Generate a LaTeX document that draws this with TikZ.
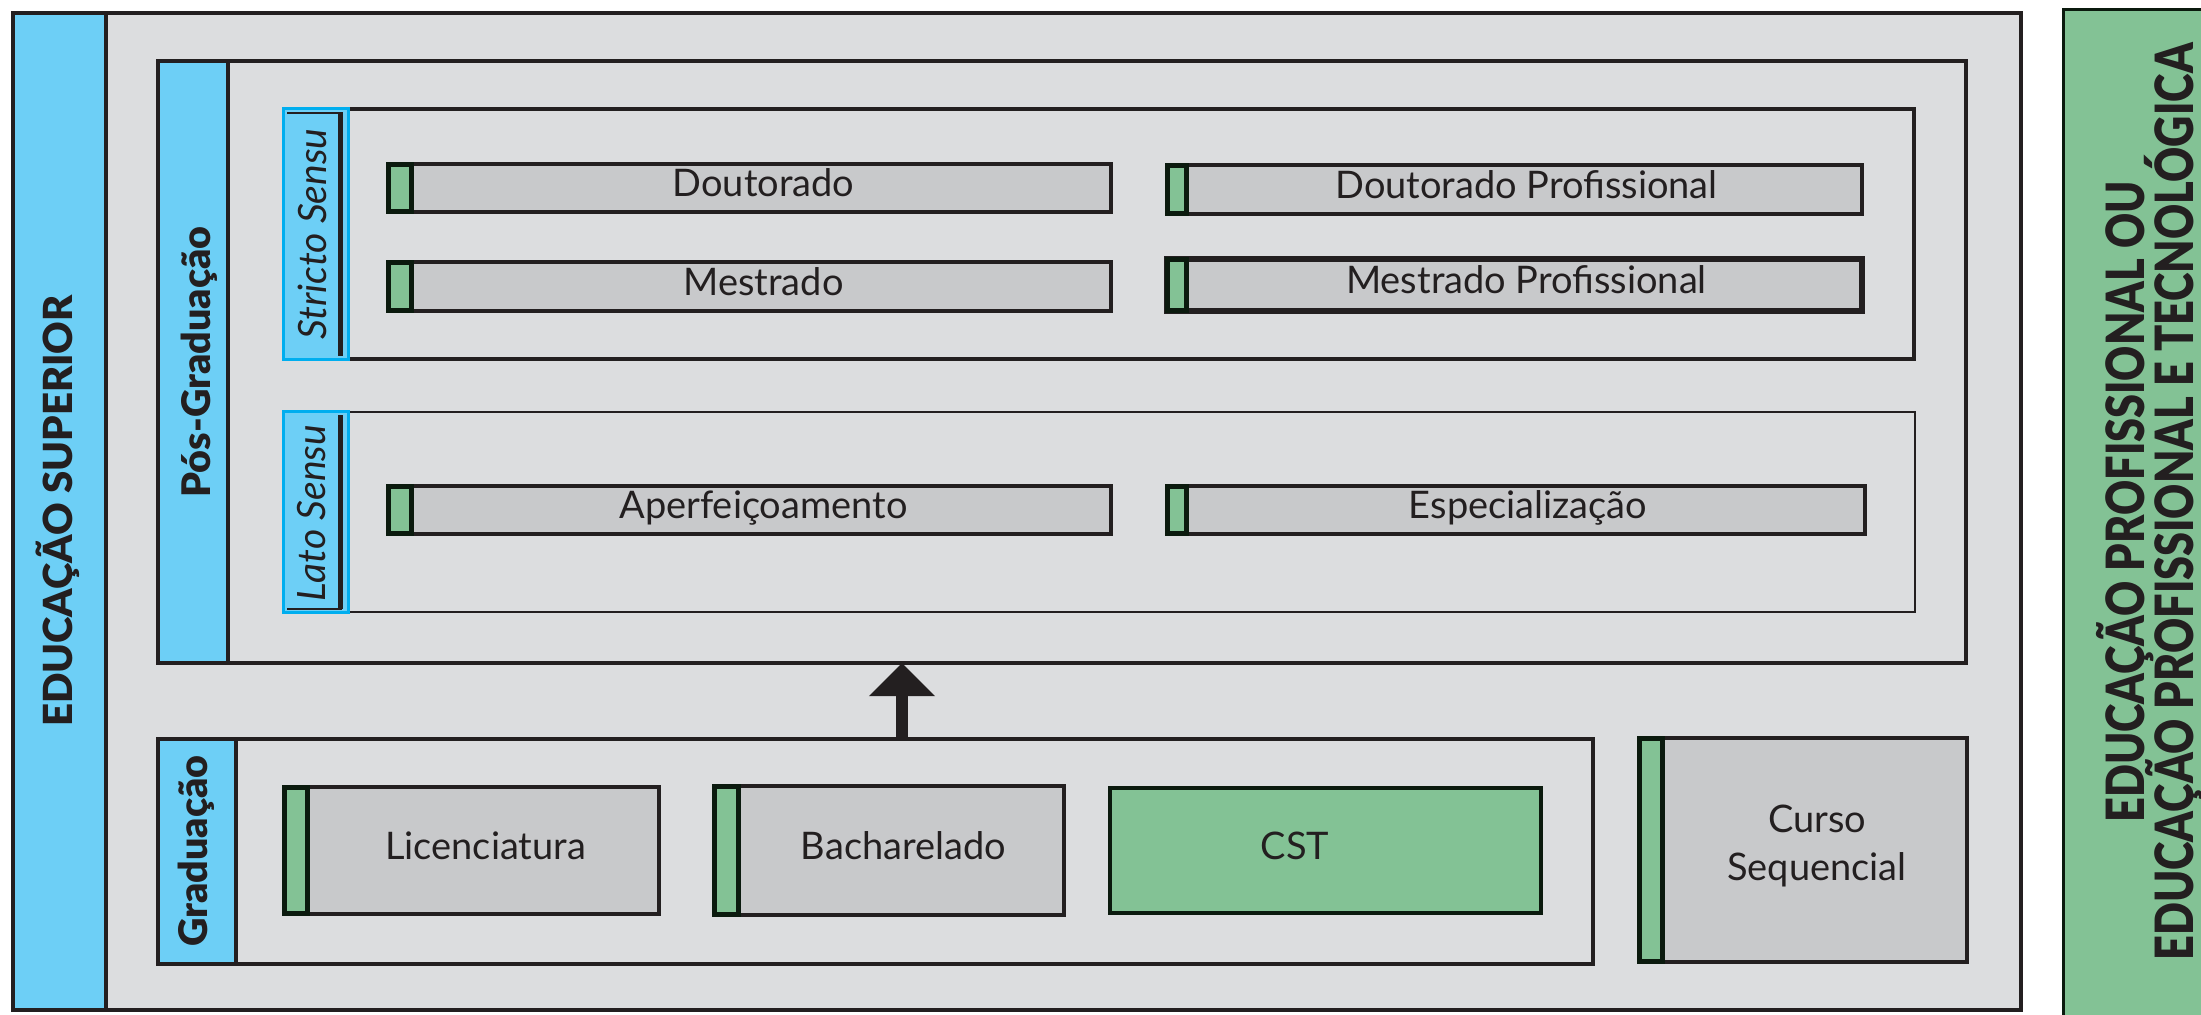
\documentclass[tikz,border=0pt]{standalone}
\usepackage{fontspec}
\setmainfont{Lato}
\newfontfamily\heavyfont{Lato Black}
\usetikzlibrary{arrows.meta}
\definecolor{bg}{HTML}{DCDDDF}
\definecolor{itemgray}{HTML}{C8C9CB}
\definecolor{lblue}{HTML}{6DCFF6}
\definecolor{cyanb}{HTML}{00AEEF}
\definecolor{grn}{HTML}{83C295}
\definecolor{dk}{HTML}{231F20}
\definecolor{dkg}{HTML}{0B1A0E}
\newcommand\mybox[6]{\node[#1, anchor=north west, inner sep=0pt, outer sep=0pt,
  minimum width={((#5)-(#3))*0.01cm}, minimum height={((#6)-(#4))*0.01cm}] (#2) at ({#3},{#4}) {};}
% #1 name, #2 x1, #3 y1, #4 x2, #5 y2 (outer edges), #6 tab right edge, #7 text, #8 extra style
\newcommand\titem[8]{%
  \mybox{itembox,#8}{#1}{#2+2}{#3+2}{#4-2}{#5-2}
  \mybox{tabbox}{#1T}{#2+2.5}{#3+2.5}{#6-2.5}{#5-2.5}
  \node[itemtext] (#1L) at ({((#6)+(#4))/2},{((#3)+(#5))/2}) {#7};}
\begin{document}
\begin{tikzpicture}[x=0.01cm,y=-0.01cm,
  frame/.style={draw=dk, fill=bg, line width=0.045cm},
  thinframe/.style={draw=dk, fill=bg, line width=0.022cm},
  bluelabel/.style={draw=dk, fill=lblue, line width=0.04cm},
  sublabel/.style={draw=cyanb, fill=lblue, line width=0.03cm},
  itembox/.style={draw=dk, fill=itemgray, line width=0.04cm},
  tabbox/.style={draw=dkg, fill=grn, line width=0.05cm},
  itemtext/.style={text=dk, font=\fontsize{10.8}{13.7}\selectfont, anchor=mid, inner sep=0pt},
  boldlbl/.style={text=dk, font=\heavyfont\fontsize{11.2}{13}\selectfont, rotate=90, anchor=mid, inner sep=0pt},
  sublbl/.style={text=dk, font=\itshape\fontsize{11.1}{13}\selectfont, rotate=90, anchor=mid, inner sep=0pt},
  gtext/.style={text=dk, font=\heavyfont\fontsize{15}{18}\selectfont, rotate=90, anchor=base, inner sep=0pt}]
\path[fill=white] (0,0) rectangle (2201,1014);
\useasboundingbox (0,0) rectangle (2201,1014);

% right green strip
\begin{scope}
\clip (0,0) rectangle (2201,1014);
\mybox{draw=dkg, fill=grn, line width=0.03cm}{tec}{2063.5}{9.5}{2240}{1040}
\end{scope}
\node[gtext] (tec1) at (2144,502) {\scalebox{0.82}[1]{EDUCAÇÃO PROFISSIONAL OU}};
\node[gtext] (tec2) at (2193,502) {\scalebox{0.82}[1]{EDUCAÇÃO PROFISSIONAL E TECNOLÓGICA}};

% outer frame
\mybox{frame}{sup}{13}{13}{2021}{1010}
\mybox{bluelabel}{supL}{13}{13}{106}{1010}
\node[boldlbl, font=\heavyfont\fontsize{11.4}{13}\selectfont] (supT) at (64,511) {EDUCAÇÃO SUPERIOR};

% Pos-graduacao
\mybox{frame}{pos}{158}{61}{1966}{663}
\mybox{bluelabel}{posL}{158}{61}{228}{663}
\node[boldlbl] (posT) at (202,362) {Pós-Graduação};

% Stricto sensu
\mybox{frame}{ss}{284}{109}{1914}{359}
\mybox{sublabel}{ssL}{283.5}{108.5}{348.5}{359.5}
\draw[dk, line width=0.05cm] (340,112) -- (340,356);
\draw[dk, line width=0.02cm] (287,113) -- (342,113);
\node[sublbl] (ssT) at (318,234) {Stricto Sensu};

\titem{dout}{386}{162}{1113}{214}{414}{Doutorado}{}
\titem{mest}{386}{260}{1113}{313}{414}{Mestrado}{}
\titem{doutp}{1165}{163}{1864}{216}{1189}{Doutorado Profissional}{}
\titem{mestp}{1165}{257}{1864}{313}{1189}{Mestrado Profissional}{line width=0.06cm}

% Lato sensu
\mybox{thinframe}{ls}{283}{412}{1915}{612}
\mybox{sublabel}{lsL}{283.5}{411.5}{348.5}{612.5}
\draw[dk, line width=0.05cm] (340,415) -- (340,609);
\draw[dk, line width=0.02cm] (287,609) -- (342,609);
\node[sublbl] (lsT) at (317,513) {Lato Sensu};

\titem{aperf}{386}{484}{1113}{536}{414}{Aperfeiçoamento}{}
\titem{espec}{1165}{484}{1867}{536}{1189}{Especialização}{}

% Graduacao
\mybox{frame}{grad}{158}{739}{1593}{964}
\mybox{bluelabel}{gradL}{158}{739}{236}{964}
\node[boldlbl] (gradT) at (199,851) {Graduação};

\titem{lic}{282}{785}{661}{916}{310}{Licenciatura}{}
\titem{bach}{712}{784}{1066}{917}{741}{Bacharelado}{}
\mybox{draw=dkg, fill=grn, line width=0.045cm}{cst}{1110}{788}{1541}{913}
\node[itemtext] (cstT) at (1295,851) {CST};

% Curso sequencial
\titem{curso}{1637}{736}{1969}{964}{1665}{}{}
\node[itemtext, align=center, anchor=center] (cursoT) at (1817,846) {Curso\\Sequencial};

% arrow
\coordinate (ax) at (902,0);
\draw[dk, line width=0.12cm, -{Triangle[length=0.33cm,width=0.64cm]}] (grad.north -| ax) -- (pos.south -| ax);
\end{tikzpicture}
\end{document}
